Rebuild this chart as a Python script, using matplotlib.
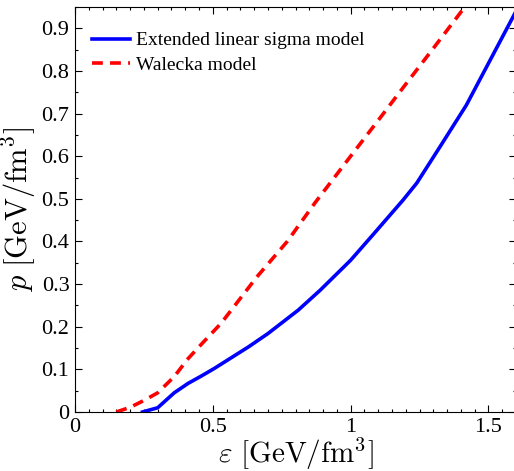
import numpy as np
import matplotlib
matplotlib.use("Agg")
import matplotlib.pyplot as plt
from matplotlib.ticker import MultipleLocator

# energy density eps [GeV/fm^3] vs pressure p [GeV/fm^3]
els_eps = [0.245, 0.30, 0.36, 0.41, 0.46, 0.505, 0.63, 0.70, 0.81, 0.89, 1.0, 1.08, 1.19, 1.24, 1.33, 1.42, 1.6]
els_p = [0.0, 0.010, 0.045, 0.067, 0.085, 0.102, 0.153, 0.184, 0.239, 0.286, 0.356, 0.415, 0.497, 0.537, 0.628, 0.72, 0.94]

wal_eps = [0.15, 0.20, 0.25, 0.30, 0.36, 0.41, 0.46, 0.53, 0.66, 0.77, 0.87, 1.0, 1.1, 1.2, 1.3, 1.42]
wal_p = [0.0, 0.011, 0.027, 0.045, 0.083, 0.125, 0.160, 0.208, 0.317, 0.40, 0.49, 0.60, 0.684, 0.769, 0.853, 0.955]

plt.rcParams['font.family'] = ['Liberation Serif', 'DejaVu Serif']
plt.rcParams['mathtext.fontset'] = 'cm'

fig = plt.figure(figsize=(5.14, 4.71), dpi=100)
ax = fig.add_axes([75/514, 59/471, 441/514, 405/471])

ax.plot(els_eps, els_p, color='#0000ff', lw=2.6, label='Extended linear sigma model')
ax.plot(wal_eps, wal_p, color='#ff0000', lw=2.6, ls=(0, (3, 2)), label='Walecka model')

ax.set_xlim(0, 1.6)
ax.set_ylim(0, 0.95)
ax.xaxis.set_minor_locator(MultipleLocator(0.05))
ax.yaxis.set_minor_locator(MultipleLocator(0.05))
ax.set_xticks([0, 0.5, 1, 1.5])
ax.set_xticklabels(['0', '0.5', '1', '1.5'])
ax.set_yticks([0, 0.1, 0.2, 0.3, 0.4, 0.5, 0.6, 0.7, 0.8, 0.9])
ax.set_yticklabels(['0', '0.1', '0.2', '0.3', '0.4', '0.5', '0.6', '0.7', '0.8', '0.9'])
ax.tick_params(which='both', direction='in', top=True, right=True, labelsize=16, width=0.8)
ax.tick_params(which='major', length=5, pad=4)
ax.tick_params(which='minor', length=2.5)

ax.set_xlabel(r'$\varepsilon\ [\mathrm{GeV/fm^3}]$', fontsize=21, labelpad=-1)
ax.set_ylabel(r'$p\ [\mathrm{GeV/fm^3}]$', fontsize=22, labelpad=2)

ax.legend(loc='upper left', bbox_to_anchor=(0.021, 0.958), borderaxespad=0,
          frameon=False, fontsize=14, handlelength=1.95,
          handletextpad=0.3, labelspacing=0.35)

fig.savefig('out.png', dpi=100)
